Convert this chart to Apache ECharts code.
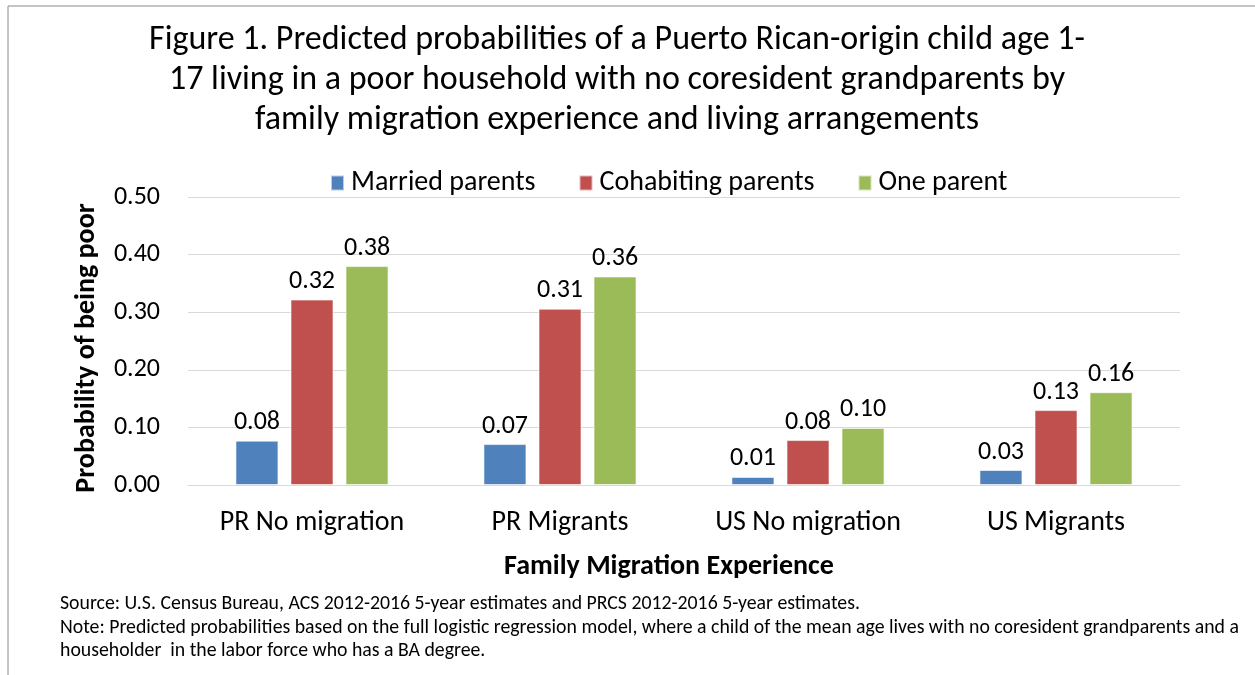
<!DOCTYPE html>
<html>
<head>
<meta charset="utf-8">
<script src="https://cdn.jsdelivr.net/npm/echarts@6/dist/echarts.min.js"></script>
<style>
  html, body { margin: 0; padding: 0; background: #fff; }
  #chart { width: 1255px; height: 675px; }
</style>
</head>
<body>
<div id="chart"></div>
<script>
// data
const categories = ["PR No migration", "PR Migrants", "US No migration", "US Migrants"];
const seriesNames = ["Married parents", "Cohabiting parents", "One parent"];
const married = [0.077, 0.071, 0.014, 0.026];
const cohabiting = [0.322, 0.306, 0.078, 0.130];
const oneParent = [0.380, 0.362, 0.099, 0.161];
const yTicks = [0, 0.1, 0.2, 0.3, 0.4, 0.5];

const FONT = "Carlito, Calibri, 'Liberation Sans Narrow', 'Open Sans', sans-serif";
const colors = ["#4F81BD", "#C0504D", "#9BBB59"];

const chart = echarts.init(document.getElementById("chart"));

function barSeries(name, data, color) {
  return {
    name: name,
    type: "bar",
    data: data,
    barWidth: 43,
    barGap: "28%",
    itemStyle: {
      color: color,
      borderColor: "rgba(255,255,255,0.6)",
      borderWidth: 1,
    },
    label: {
      show: true,
      position: "top",
      distance: 5,
      color: "#000",
      fontFamily: FONT,
      fontSize: 26,
      formatter: (p) => p.value.toFixed(2),
    },
  };
}

const option = {
  backgroundColor: "#fff",
  animation: false,
  color: colors,
  title: {
    text: "Figure 1. Predicted probabilities of a Puerto Rican-origin child age 1-\n17 living in a poor household with no coresident grandparents by\nfamily migration experience and living arrangements",
    left: 612,
    top: 15,
    textAlign: "center",
    textStyle: {
      fontFamily: FONT,
      fontSize: 34,
      fontWeight: "normal",
      color: "#000",
      lineHeight: 40,
    },
  },
  legend: {
    data: seriesNames,
    top: 164,
    left: 325,
    itemWidth: 13,
    itemHeight: 15,
    itemGap: 43,
    icon: "rect",
    textStyle: { fontFamily: FONT, fontSize: 28, color: "#000", padding: [0, 0, 0, 2] },
  },
  grid: {
    left: 188,
    right: 75,
    top: 197,
    bottom: 190,
  },
  xAxis: {
    type: "category",
    data: categories,
    name: "Family Migration Experience",
    nameLocation: "middle",
    nameGap: 68,
    nameTextStyle: {
      fontFamily: FONT,
      fontSize: 28,
      fontWeight: "bold",
      color: "#000",
      padding: [0, 30, 0, 0],
    },
    axisLine: { show: true, lineStyle: { color: "#d9d9d9" } },
    axisTick: { show: false },
    axisLabel: { fontFamily: FONT, fontSize: 28, color: "#000", margin: 24 },
  },
  yAxis: {
    type: "value",
    min: yTicks[0],
    max: yTicks[yTicks.length - 1],
    interval: 0.1,
    name: "Probability of being poor",
    nameLocation: "middle",
    nameGap: 87,
    nameTextStyle: {
      fontFamily: FONT,
      fontSize: 28,
      fontWeight: "bold",
      color: "#000",
      padding: [0, 14, 0, 0],
    },
    axisLine: { show: false },
    axisTick: { show: false },
    axisLabel: {
      fontFamily: FONT,
      fontSize: 26,
      color: "#000",
      margin: 28,
      formatter: (v) => v.toFixed(2),
    },
    splitLine: { lineStyle: { color: "#d9d9d9", width: 1 } },
  },
  series: [
    barSeries(seriesNames[0], married, colors[0]),
    barSeries(seriesNames[1], cohabiting, colors[1]),
    barSeries(seriesNames[2], oneParent, colors[2]),
  ],
  graphic: [
    {
      type: "rect",
      shape: { x: 8, y: 6, width: 1260, height: 680 },
      style: { fill: "none", stroke: "#888", lineWidth: 1 },
      silent: true,
    },
    {
      type: "text",
      left: 60,
      top: 594,
      style: {
        text: "Source: U.S. Census Bureau, ACS 2012-2016 5-year estimates and PRCS 2012-2016 5-year estimates.",
        font: "19.8px " + FONT,
        fill: "#000",
      },
    },
    {
      type: "text",
      left: 60,
      top: 617,
      style: {
        text: "Note: Predicted probabilities based on the full logistic regression model, where a child of the mean age lives with no coresident grandparents and a\nhouseholder  in the labor force who has a BA degree.",
        font: "19.8px " + FONT,
        lineHeight: 23,
        fill: "#000",
      },
    },
  ],
};

chart.setOption(option);
window.addEventListener("resize", function () {
  chart.resize();
});
</script>
</body>
</html>
